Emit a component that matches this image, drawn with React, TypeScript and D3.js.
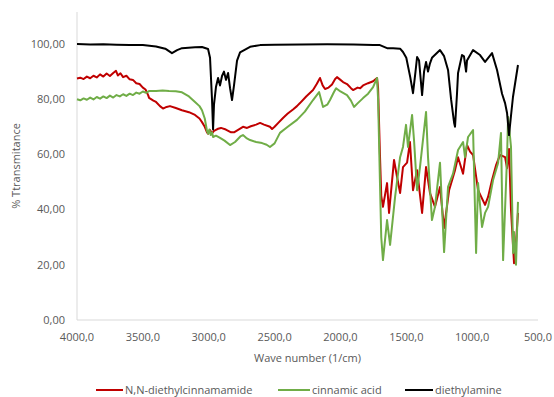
import React, { useRef, useEffect } from "react";
import * as d3 from "d3";

type Pt = [number, number];

// wave number (1/cm), % transmittance
const diethylcinnamamide: Pt[] = [
  [4000, 87.5], [3975, 87.8], [3950, 87.3], [3925, 88.2], [3900, 87.6], [3875, 88.5],
  [3850, 87.9], [3825, 89], [3800, 88.2], [3775, 89.3], [3750, 88.4], [3725, 89.5],
  [3704, 90.3], [3690, 88.6], [3670, 89.4], [3650, 88], [3625, 88.5], [3600, 87.2],
  [3575, 87], [3550, 85.8], [3525, 85.5], [3500, 84.2], [3480, 83.5], [3460, 81.5],
  [3453, 80.5], [3420, 79.5], [3400, 79], [3370, 77.5], [3347, 76.6], [3320, 77.2],
  [3294, 77.5], [3250, 76.8], [3203, 76], [3150, 75.3], [3104, 74.3], [3070, 73],
  [3051, 71.7], [3030, 70], [3013, 68], [3005, 67.5], [2990, 68.8], [2975, 67.6],
  [2960, 68.5], [2945, 68.9], [2929, 69.3], [2907, 69.6], [2870, 69], [2830, 68],
  [2808, 68], [2780, 68.8], [2740, 70], [2709, 69.6], [2680, 70.2], [2640, 70.8],
  [2610, 71.4], [2580, 70.8], [2535, 70], [2519, 69.2], [2500, 70], [2470, 71.5],
  [2436, 73.2], [2400, 74.8], [2360, 76.3], [2330, 77.5], [2307, 78.6], [2260, 81],
  [2208, 83.3], [2180, 85.5], [2155, 87.7], [2135, 85], [2117, 83.7], [2090, 84.2],
  [2064, 85.3], [2040, 87.3], [2026, 88], [2000, 87], [1980, 86.2], [1950, 85.5],
  [1920, 84], [1904, 83.3], [1870, 84.2], [1850, 84], [1828, 85], [1790, 85.8],
  [1752, 86.5], [1722, 87.7], [1714, 84], [1700, 60], [1690, 45], [1677, 41],
  [1646, 49.6], [1631, 38.8], [1593, 58], [1570, 51.8], [1547, 46], [1525, 55.4],
  [1494, 57], [1472, 64.5], [1449, 47], [1418, 54.3], [1380, 38.8], [1350, 55.4],
  [1320, 46], [1282, 41], [1244, 48.2], [1213, 33.3], [1175, 47], [1130, 54.3],
  [1107, 59], [1069, 53], [1039, 63.4], [1016, 61], [993, 59.8], [955, 47],
  [902, 41.7], [879, 44.6], [849, 50.7], [819, 56], [788, 59.8], [750, 59],
  [735, 55], [720, 62], [705, 40], [682, 20.6], [667, 28], [652, 38.8],
];

const cinnamicAcid: Pt[] = [
  [4000, 80], [3975, 79.6], [3950, 80.3], [3925, 79.8], [3900, 80.6], [3875, 79.9],
  [3850, 80.8], [3825, 80.2], [3800, 81], [3775, 80.4], [3750, 81.3], [3725, 80.6],
  [3700, 81.5], [3675, 81], [3650, 81.8], [3625, 81.2], [3600, 82], [3575, 81.5],
  [3550, 82.4], [3525, 82], [3500, 82.8], [3475, 82.3], [3450, 83], [3400, 83],
  [3350, 83.2], [3301, 83], [3250, 82.9], [3203, 82.5], [3150, 81], [3104, 79],
  [3070, 77.5], [3051, 76], [3030, 73], [3013, 68.5], [3005, 67.5], [2995, 69],
  [2985, 67], [2975, 68], [2967, 66.3], [2945, 66.8], [2914, 66], [2880, 65],
  [2838, 63.4], [2800, 64.5], [2760, 66.5], [2740, 67], [2710, 65.8], [2686, 65.2],
  [2640, 64.5], [2595, 64.1], [2560, 63.5], [2535, 62.7], [2500, 64], [2459, 67.8],
  [2400, 70], [2330, 72.5], [2270, 75.5], [2208, 79.7], [2162, 82.6], [2132, 77.2],
  [2100, 78], [2079, 79.7], [2050, 82.5], [2033, 84], [2000, 82.8], [1950, 81.5],
  [1920, 79.5], [1897, 77.2], [1870, 78.5], [1828, 80.4], [1790, 82], [1752, 84.4],
  [1722, 87.7], [1714, 80], [1700, 50], [1690, 30], [1677, 21.7], [1646, 36.2],
  [1623, 27.2], [1585, 44.6], [1547, 59], [1525, 62.7], [1502, 70.7], [1487, 62.7],
  [1456, 74.3], [1441, 65], [1418, 47], [1396, 55.4], [1350, 75.4], [1335, 59],
  [1305, 36.2], [1282, 41], [1244, 57], [1213, 24.6], [1183, 48.2], [1145, 53],
  [1107, 61.6], [1069, 64.5], [1054, 59], [1031, 66.3], [993, 68.8], [970, 24.3],
  [955, 49.6], [925, 33.7], [902, 38.8], [879, 41], [841, 50.7], [803, 56.9],
  [781, 67.8], [765, 21.7], [735, 59], [727, 73.6], [705, 62.7], [689, 24.3],
  [682, 31.9], [667, 20], [652, 42.8],
];

const diethylamine: Pt[] = [
  [4000, 100], [3900, 99.8], [3800, 99.9], [3700, 99.7], [3600, 99.6], [3500, 99.6],
  [3400, 99.1], [3330, 98.3], [3279, 96.7], [3240, 97.8], [3203, 98.5], [3104, 98.8],
  [3051, 98.9], [3005, 98.2], [2990, 95], [2975, 80], [2967, 69], [2960, 78],
  [2945, 84.4], [2929, 87.7], [2914, 85], [2899, 88.4], [2884, 90], [2869, 87],
  [2853, 89.5], [2838, 84], [2823, 79.7], [2808, 85], [2785, 94], [2762, 97],
  [2686, 99], [2610, 99.6], [2500, 99.7], [2300, 99.8], [2100, 99.9], [1900, 99.8],
  [1750, 99.6], [1700, 99.6], [1646, 98.5], [1600, 98.5], [1547, 98.3], [1525, 97.1],
  [1500, 95], [1470, 88], [1449, 82.2], [1430, 90], [1418, 95.3], [1403, 94],
  [1380, 81.5], [1365, 90], [1350, 93.5], [1335, 90], [1320, 93], [1305, 95],
  [1244, 97.8], [1213, 95.6], [1183, 90.6], [1160, 80], [1137, 71.5], [1130, 70],
  [1115, 82], [1107, 89.5], [1077, 96], [1062, 95.5], [1046, 90], [1039, 94],
  [993, 97.8], [940, 96], [902, 93.5], [849, 96.7], [811, 90.6], [773, 82],
  [750, 78.6], [735, 75], [720, 67], [705, 74], [690, 80.8], [652, 92.4],
];

const seriesNames = ["N,N-diethylcinnamamide", "cinnamic acid", "diethylamine"];
const seriesColors = ["#c00000", "#70ad47", "#000000"];
const xTicks = [4000, 3500, 3000, 2500, 2000, 1500, 1000, 500];
const yTicks = [0, 20, 40, 60, 80, 100];

const W = 554;
const H = 397;
const FONT = "'Open Sans', sans-serif";
const TEXT = "#595959";

const App = () => {
  const ref = useRef<SVGSVGElement>(null);

  useEffect(() => {
    const svg = d3.select(ref.current);
    svg.selectAll("*").remove();

    const left = 77, right = 538, top = 12, bottom = 320;
    const x = d3.scaleLinear().domain([4000, 500]).range([left, right]);
    const y = d3.scaleLinear().domain([0, 111.6]).range([bottom, top]);

    // axis lines
    svg.append("line")
      .attr("x1", left).attr("x2", left).attr("y1", top).attr("y2", bottom)
      .attr("stroke", "#d9d9d9").attr("stroke-width", 1);
    svg.append("line")
      .attr("x1", left).attr("x2", right).attr("y1", bottom).attr("y2", bottom)
      .attr("stroke", "#d9d9d9").attr("stroke-width", 1);

    const fmtY = (v: number) => v.toFixed(2).replace(".", ",");
    const fmtX = (v: number) => v.toFixed(1).replace(".", ",");

    svg.append("g")
      .selectAll("text")
      .data(yTicks)
      .join("text")
      .attr("x", 65)
      .attr("y", (d) => y(d))
      .attr("dy", "0.35em")
      .attr("text-anchor", "end")
      .style("font-family", FONT)
      .style("font-size", "11px")
      .style("fill", TEXT)
      .text(fmtY);

    svg.append("g")
      .selectAll("text")
      .data(xTicks)
      .join("text")
      .attr("x", (d) => x(d))
      .attr("y", 341)
      .attr("text-anchor", "middle")
      .style("font-family", FONT)
      .style("font-size", "11px")
      .style("fill", TEXT)
      .text(fmtX);

    svg.append("text")
      .attr("x", (left + right) / 2)
      .attr("y", 362)
      .attr("text-anchor", "middle")
      .style("font-family", FONT)
      .style("font-size", "11px")
      .style("fill", TEXT)
      .text("Wave number (1/cm)");

    svg.append("text")
      .attr("transform", `translate(20,${(top + bottom) / 2}) rotate(-90)`)
      .attr("text-anchor", "middle")
      .style("font-family", FONT)
      .style("font-size", "11px")
      .style("fill", TEXT)
      .text("% Ttransmitance");

    const line = d3.line<Pt>()
      .x((d) => x(d[0]))
      .y((d) => y(d[1]));

    const allSeries = [diethylcinnamamide, cinnamicAcid, diethylamine];
    svg.append("g")
      .selectAll("path")
      .data(allSeries)
      .join("path")
      .attr("d", (d) => line(d))
      .attr("fill", "none")
      .attr("stroke", (_, i) => seriesColors[i])
      .attr("stroke-width", 2)
      .attr("stroke-linejoin", "round");

    // legend
    const legendX = [96, 278, 405];
    const legendLen = [27, 32, 28];
    const lg = svg.append("g")
      .selectAll("g")
      .data(seriesNames)
      .join("g")
      .attr("transform", (_, i) => `translate(${legendX[i]},390)`);
    lg.append("line")
      .attr("x1", 0)
      .attr("x2", (_, i) => legendLen[i])
      .attr("stroke", (_, i) => seriesColors[i])
      .attr("stroke-width", 2);
    lg.append("text")
      .attr("x", (_, i) => legendLen[i] + 2)
      .attr("dy", "0.35em")
      .style("font-family", FONT)
      .style("font-size", "11px")
      .style("fill", TEXT)
      .text((d) => d);
  }, []);

  return (
    <div style={{ position: "absolute", left: 0, top: 0 }}>
      <svg ref={ref} width={W} height={H} style={{ display: "block", background: "#fff" }} />
    </div>
  );
};

export default App;
